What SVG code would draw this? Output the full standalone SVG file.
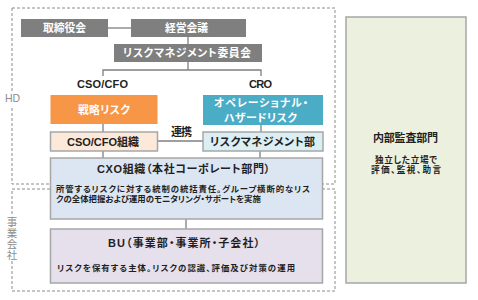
<svg xmlns="http://www.w3.org/2000/svg" width="478" height="300" viewBox="0 0 478 300">
<style>
text{font-family:"Liberation Sans","Noto Sans CJK JP",sans-serif;font-weight:bold;text-anchor:middle;dominant-baseline:central;font-feature-settings:"palt";fill:#1f1f1f}
.w{fill:#ffffff;font-size:10.8px}
.t{font-size:11px}
.s{font-size:8.4px;text-anchor:start}
.c{font-size:8.6px}
.g{fill:#8c8c8c;font-weight:normal;font-size:10.5px}
.dash{fill:none;stroke:#8c8c8c;stroke-width:1;stroke-dasharray:3 2}
.dk{fill:#7f7f7f}
.bx{stroke:#a6a6a6;stroke-width:1.5}
.ln{fill:none;stroke:#7f7f7f;stroke-width:1.3}
</style>
<rect width="478" height="300" fill="#ffffff"/>
<g id="groups">
<rect class="dash" x="12" y="8" width="323" height="176"/>
<rect class="dash" x="12" y="189" width="323" height="102"/>
<rect x="4" y="91" width="17" height="15" fill="#ffffff"/>
<text class="g" x="12.5" y="98" textLength="15">HD</text>
<rect x="5" y="215" width="14" height="46" fill="#ffffff"/>
<text class="g" x="12" y="222">事</text>
<text class="g" x="12" y="233">業</text>
<text class="g" x="12" y="244">会</text>
<text class="g" x="12" y="255">社</text>
</g>
<g id="connectors">
<path class="ln" d="M108 28H131"/>
<path class="ln" d="M188 37V44"/>
<path class="ln" d="M188 62V70M103 76V70H261V76"/>
<path class="ln" d="M103 124V132"/>
<path class="ln" d="M261 125V132"/>
<path class="ln" d="M157 141H203"/>
<path class="ln" d="M103 151V158"/>
<path class="ln" d="M260 151V158"/>
<path class="ln" d="M186 219V229"/>
<text class="t" x="181.5" y="132" textLength="21">連携</text>
</g>
<g id="board">
<rect class="dk" x="21" y="19" width="87" height="18"/>
<text class="w" x="64.5" y="28" textLength="43">取締役会</text>
</g>
<g id="exec">
<rect class="dk" x="131" y="19" width="115" height="18"/>
<text class="w" x="186.5" y="28" textLength="43">経営会議</text>
</g>
<g id="committee">
<rect class="dk" x="114" y="44" width="148" height="18"/>
<text class="w" x="187" y="53" textLength="128">リスクマネジメント委員会</text>
</g>
<g id="cso">
<text class="t" x="102.5" y="84" textLength="51">CSO/CFO</text>
</g>
<g id="cro">
<text class="t" x="260.5" y="84" textLength="23">CRO</text>
</g>
<g id="strategic">
<rect x="50.5" y="95" width="107" height="29" fill="#f79646"/>
<text class="w" x="104" y="110" textLength="52">戦略リスク</text>
</g>
<g id="operational">
<rect x="203" y="95" width="120" height="30" fill="#4bacc6"/>
<text class="w" x="261" y="103" textLength="94">オペレーショナル・</text>
<text class="w" x="260.5" y="117.5" textLength="73">ハザードリスク</text>
</g>
<g id="csoorg">
<rect class="bx" x="50.5" y="132" width="107" height="19" fill="#fde9d9"/>
<text class="t" x="103" y="141.5" textLength="72">CSO/CFO組織</text>
</g>
<g id="rmdept">
<rect class="bx" x="203" y="132" width="120" height="19" fill="#dbeef4"/>
<text class="t" x="262.5" y="142" textLength="105">リスクマネジメント部</text>
</g>
<g id="cxo">
<rect class="bx" x="50.5" y="158" width="272" height="61" fill="#dce6f2"/>
<text class="t" x="183.5" y="169" textLength="173">CXO組織（本社コーポレート部門）</text>
<text class="s" x="56" y="188.5" textLength="254">所管するリスクに対する統制の統括責任。グループ横断的なリス</text>
<text class="s" x="56" y="199">クの全体把握および運用のモニタリング・サポートを実施</text>
</g>
<g id="bu">
<rect class="bx" x="50.5" y="229" width="272" height="54" fill="#e6e0ec"/>
<text class="t" x="184" y="243" textLength="152">BU（事業部・事業所・子会社）</text>
<text class="s" x="57" y="268" textLength="238">リスクを保有する主体。リスクの認識、評価及び対策の運用</text>
</g>
<g id="audit">
<rect class="bx" x="346" y="17" width="120" height="266" fill="#ebf1de"/>
<text class="t" x="405.5" y="138" textLength="65">内部監査部門</text>
<text class="c" x="406" y="160" textLength="62">独立した立場で</text>
<text class="c" x="406" y="169.5" textLength="70">評価、監視、助言</text>
</g>
</svg>
